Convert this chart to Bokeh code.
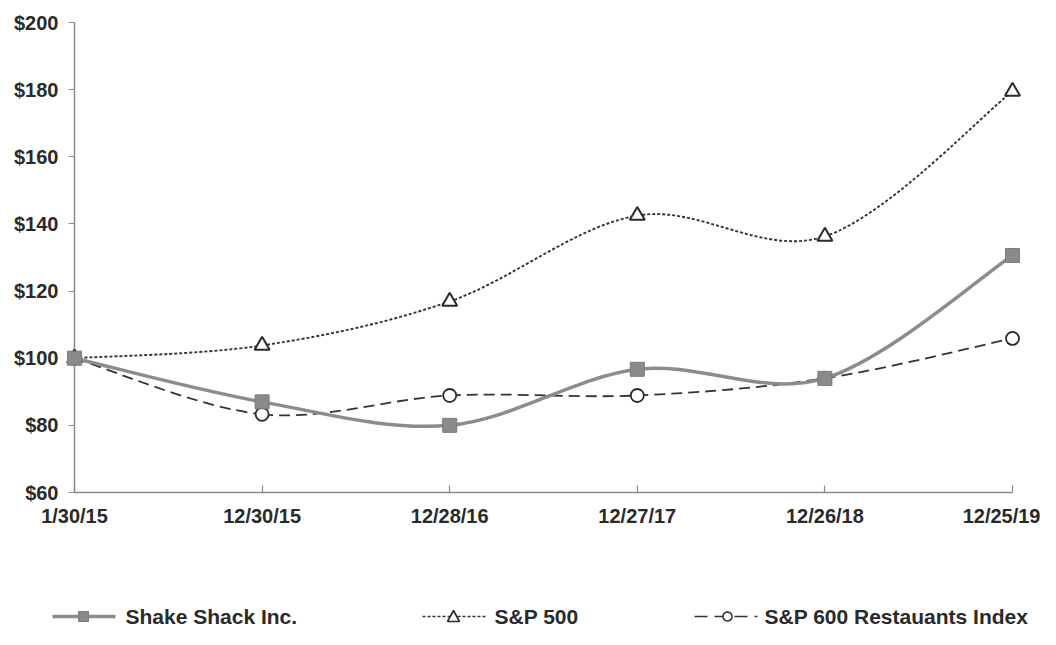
import math
from bokeh.plotting import figure
from bokeh.models import FixedTicker, NumeralTickFormatter, Range1d, ColumnDataSource
from bokeh.core.properties import value
from bokeh.embed import file_html
from bokeh.resources import INLINE

# ---- data ----
dates = ["1/30/15", "12/30/15", "12/28/16", "12/27/17", "12/26/18", "12/25/19"]
shake_shack = [100, 87, 80, 96.7, 94, 130.6]
sp500 = [100, 103.8, 116.9, 142.5, 136.3, 179.5]
sp600_rest = [100, 83.3, 88.9, 88.9, 94, 105.9]
y_ticks = [60, 80, 100, 120, 140, 160, 180, 200]
series_names = ["Shake Shack Inc.", "S&P 500", "S&P 600 Restauants Index"]

x_idx = list(range(len(dates)))
FONT = "Liberation Sans"

W, H = 1040, 629
BL, BR, BT, BB = 74, 28, 22, 137

p = figure(width=W, height=H, output_backend="svg", toolbar_location=None,
           x_range=Range1d(0, len(dates) - 1), y_range=Range1d(60, 200),
           min_border_left=BL, min_border_right=BR, min_border_top=BT, min_border_bottom=BB)
p.outline_line_color = None
p.grid.visible = False
p.background_fill_color = "white"
# pixel-like helper ranges for the legend strip (layout only)
p.extra_x_ranges = {"px": Range1d(BL, W - BR)}
p.extra_y_ranges = {"py": Range1d(H - BB, BT)}

# axes
p.xaxis.ticker = FixedTicker(ticks=x_idx)
p.xaxis.major_label_overrides = {i: d for i, d in enumerate(dates)}
p.yaxis.ticker = FixedTicker(ticks=y_ticks)
p.yaxis.formatter = NumeralTickFormatter(format="$0")
for ax in (p.xaxis, p.yaxis):
    ax.axis_line_color = "#8a8a8a"
    ax.axis_line_width = 1.5
    ax.major_tick_line_color = "#8a8a8a"
    ax.major_tick_line_width = 1.2
    ax.minor_tick_line_color = None
    ax.major_label_text_font = FONT
    ax.major_label_text_font_style = "bold"
    ax.major_label_text_font_size = "20px"
    ax.major_label_text_color = "#2a2a2a"
p.xaxis.major_tick_in = 7
p.xaxis.major_tick_out = 0
p.xaxis.major_label_standoff = 12
p.yaxis.major_tick_in = 0
p.yaxis.major_tick_out = 6
p.yaxis.major_label_standoff = 10


def smooth_source(xs, ys):
    n = len(xs)
    d = dict(x0=[], y0=[], x1=[], y1=[], cx0=[], cy0=[], cx1=[], cy1=[])
    for i in range(n - 1):
        im1 = max(i - 1, 0)
        ip2 = min(i + 2, n - 1)
        d["x0"].append(xs[i]); d["y0"].append(ys[i])
        d["x1"].append(xs[i + 1]); d["y1"].append(ys[i + 1])
        d["cx0"].append(xs[i] + (xs[i + 1] - xs[im1]) / 6)
        d["cy0"].append(ys[i] + (ys[i + 1] - ys[im1]) / 6)
        d["cx1"].append(xs[i + 1] - (xs[ip2] - xs[i]) / 6)
        d["cy1"].append(ys[i + 1] - (ys[ip2] - ys[i]) / 6)
    return ColumnDataSource(d)


SS = dict(color="#8c8c8c", width=3.5, dash="solid")
S5 = dict(color="#333333", width=1.9, dash="3 2")
S6 = dict(color="#333333", width=1.8, dash="11 6")

bez = dict(x0="x0", y0="y0", x1="x1", y1="y1", cx0="cx0", cy0="cy0", cx1="cx1", cy1="cy1")
p.bezier(source=smooth_source(x_idx, sp500), line_color=S5["color"], line_width=S5["width"],
         line_dash=S5["dash"], **bez)
p.bezier(source=smooth_source(x_idx, sp600_rest), line_color=S6["color"], line_width=S6["width"],
         line_dash=S6["dash"], **bez)
p.bezier(source=smooth_source(x_idx, shake_shack), line_color=SS["color"], line_width=SS["width"],
         line_dash=SS["dash"], **bez)

# markers
p.scatter(x_idx, sp500, marker="triangle", size=15, fill_color="white",
          line_color="#2a2a2a", line_width=2, level="overlay")
p.scatter(x_idx, sp600_rest, marker="circle", size=13, fill_color="white",
          line_color="#2a2a2a", line_width=1.8, level="overlay")
p.scatter(x_idx, shake_shack, marker="square", size=14, fill_color="#8a8a8a",
          line_color="#7a7a7a", line_width=1, level="overlay")

# ---- legend (drawn as a strip below the axis; layout constants only) ----
LY = 616
leg_x0 = [52, 422, 694]   # swatch start
leg_w = 63
leg_tx = [125, 494, 764]  # label start
rng = dict(x_range_name="px", y_range_name="py", level="overlay")

# Shake Shack swatch
p.segment(x0=[leg_x0[0]], y0=[LY], x1=[leg_x0[0] + leg_w], y1=[LY], line_color=SS["color"],
          line_width=3.5, **rng)
cx = leg_x0[0] + 31
p.patch([cx - 5, cx + 5, cx + 5, cx - 5], [LY - 5, LY - 5, LY + 5, LY + 5],
        fill_color="#8a8a8a", line_color="#7a7a7a", line_width=1, **rng)
# S&P 500 swatch
p.segment(x0=[leg_x0[1]], y0=[LY], x1=[leg_x0[1] + leg_w], y1=[LY], line_color=S5["color"],
          line_width=1.5, line_dash="3 2", **rng)
cx = leg_x0[1] + 31
p.patch([cx, cx + 6, cx - 6], [LY - 6, LY + 5, LY + 5], fill_color="white",
        line_color="#2a2a2a", line_width=1.6, **rng)
# S&P 600 swatch
p.segment(x0=[leg_x0[2]], y0=[LY], x1=[leg_x0[2] + leg_w], y1=[LY], line_color=S6["color"],
          line_width=1.5, line_dash="13 7", **rng)
cx = leg_x0[2] + 33
p.patch([cx + 4.5 * math.cos(2 * math.pi * k / 24) for k in range(24)],
        [LY + 4.5 * math.sin(2 * math.pi * k / 24) for k in range(24)],
        fill_color="white", line_color="#2a2a2a", line_width=1.5, **rng)
# labels
p.text(x=leg_tx, y=[LY] * 3, text=series_names, text_font=value(FONT), text_font_style="bold",
       text_font_size="21px", text_color="#2a2a2a", text_baseline="middle", text_align="left", **rng)

open("out.html", "w").write(file_html(p, INLINE))
